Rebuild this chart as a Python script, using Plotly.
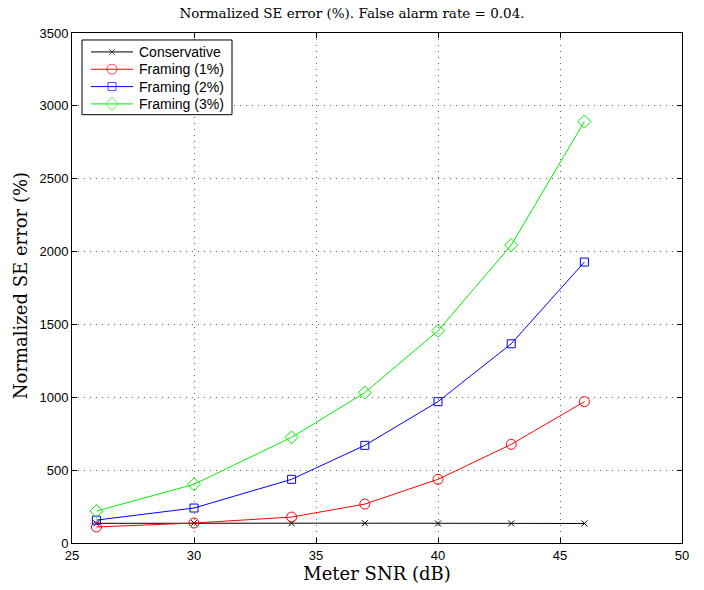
import plotly.graph_objects as go

snr = [26, 30, 34, 37, 40, 43, 46]
conservative = [135, 138, 136, 136, 134, 134, 134]
framing1 = [110, 137, 178, 267, 437, 677, 970]
framing2 = [157, 240, 437, 670, 970, 1367, 1928]
framing3 = [219, 403, 725, 1032, 1456, 2044, 2892]

names = ["Conservative", "Framing (1%)", "Framing (2%)", "Framing (3%)"]
values = [conservative, framing1, framing2, framing3]
colors = ["black", "red", "blue", "#00f000"]
symbols = ["x-thin-open", "circle-open", "square-open", "diamond-open"]
sizes = [6, 10, 8, 10]

PW, PH = 610, 512  # plot area in pixels (used for the overlay legend axes)

fig = go.Figure()
for name, ys, col, sym, sz in zip(names, values, colors, symbols, sizes):
    fig.add_trace(go.Scatter(
        x=snr, y=ys, name=name, mode="lines+markers", showlegend=False,
        line=dict(color=col, width=1),
        marker=dict(symbol=sym, size=sz, color=col, line=dict(color=col, width=1)),
    ))

# Compact legend drawn on an overlay axis in pixel units
bx0, bx1, by0, by1 = 10, 160, 430, 505
fig.add_trace(go.Scatter(
    x=[bx0, bx1, bx1, bx0, bx0], y=[by0, by0, by1, by1, by0],
    xaxis="x2", yaxis="y2", mode="lines", fill="toself", fillcolor="white",
    line=dict(color="black", width=1), showlegend=False, hoverinfo="skip",
))
annotations = []
for i, (name, col, sym, sz) in enumerate(zip(names, colors, symbols, sizes)):
    yy = 493 - i * 17.4
    fig.add_trace(go.Scatter(
        x=[19, 40, 61], y=[yy, yy, yy], xaxis="x2", yaxis="y2",
        mode="lines+markers", showlegend=False, hoverinfo="skip",
        line=dict(color=col, width=1),
        marker=dict(symbol=sym, size=[0, sz, 0], color=col, line=dict(color=col, width=1)),
    ))
    annotations.append(dict(text=name, xref="x2", yref="y2", x=65, y=yy,
                            xanchor="left", yanchor="middle", showarrow=False,
                            font=dict(family="Liberation Sans, Arial", size=14, color="black")))

axis_common = dict(
    showline=True, linecolor="black", linewidth=1, mirror="ticks",
    ticks="inside", ticklen=5, tickcolor="black",
    showgrid=True, gridcolor="#666666", griddash="1px,5px", gridwidth=1,
    zeroline=False,
    tickfont=dict(family="Liberation Sans, Arial", size=13, color="black"),
)

serif = "DejaVu Serif"

annotations.append(dict(text="Normalized SE error (%)", textangle=-90,
                        xref="paper", yref="paper", x=-0.085, y=(545 - 287) / 512,
                        xanchor="center", yanchor="middle", showarrow=False,
                        font=dict(family=serif, size=18, color="black")))

fig.update_layout(
    width=704, height=590,
    margin=dict(l=72, r=22, t=33, b=45),
    paper_bgcolor="white", plot_bgcolor="white",
    title=dict(text="Normalized SE error (%). False alarm rate = 0.04.",
               x=0.5, xanchor="center", y=0.985, yanchor="top",
               font=dict(family=serif, size=13.5, color="black")),
    xaxis=dict(range=[25, 50], dtick=5,
               title=dict(text="Meter SNR (dB)", standoff=3,
                          font=dict(family=serif, size=18, color="black")),
               **axis_common),
    yaxis=dict(range=[0, 3500], dtick=500, **axis_common),
    xaxis2=dict(overlaying="x", range=[0, PW], visible=False, fixedrange=True),
    yaxis2=dict(overlaying="y", range=[0, PH], visible=False, fixedrange=True),
    annotations=annotations,
    showlegend=False,
)

fig.write_html("out.html")
